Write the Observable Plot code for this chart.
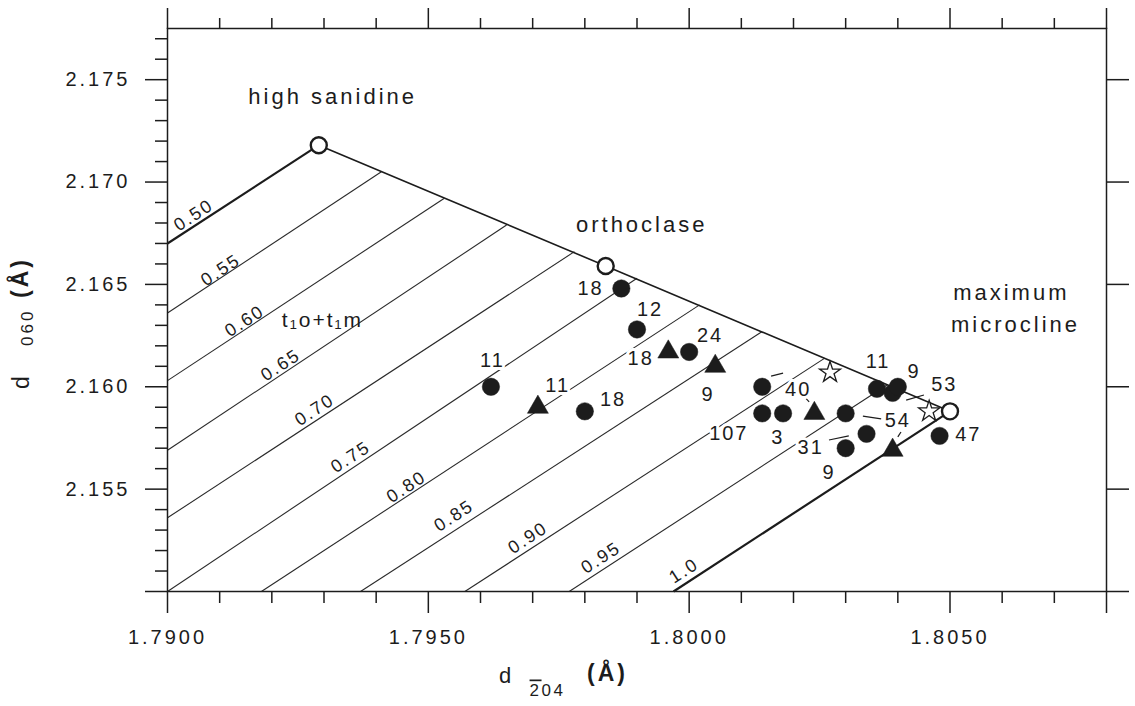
<!DOCTYPE html>
<html>
<head>
<meta charset="utf-8">
<script src="https://cdn.jsdelivr.net/npm/d3@7"></script>
<script src="https://cdn.jsdelivr.net/npm/@observablehq/plot@0.6"></script>
<style>
  html, body { margin: 0; padding: 0; background: #ffffff; }
  #chart svg { display: block; }
  .numlab text { letter-spacing: 2px; }
  .isolab text { letter-spacing: 2px; }
  .names text { letter-spacing: 3px; }
  .sub text { letter-spacing: 2.5px; }
  .barred { text-decoration: overline; }
</style>
</head>
<body>
<div id="chart"></div>
<script>
// ---------- axis ticks ----------
const xMajorTicks = [1.790, 1.795, 1.800, 1.805];
const xMinorTicks = [1.791, 1.792, 1.793, 1.794, 1.796, 1.797, 1.798, 1.799, 1.801, 1.802, 1.803, 1.804, 1.806, 1.807];
const xEndTicks = [1.808];
const yMajorTicks = [2.155, 2.160, 2.165, 2.170, 2.175];
const yMinorTicks = [2.151, 2.152, 2.153, 2.154, 2.156, 2.157, 2.158, 2.159, 2.161, 2.162, 2.163, 2.164,
                     2.166, 2.167, 2.168, 2.169, 2.171, 2.172, 2.173, 2.174, 2.176, 2.177];
const yEndTicks = [2.150];

// ---------- end members ----------
const endNames = ["high sanidine", "orthoclase", "maximum microcline"];
const endX = [1.7929, 1.7984, 1.8050];
const endY = [2.1718, 2.1659, 2.1588];

// name labels
const nameText = ["high sanidine", "orthoclase", "maximum", "microcline"];
const nameX = [1.79155, 1.79783, 1.80506, 1.80502];
const nameY = [2.17418, 2.16789, 2.16457, 2.16301];

// ---------- t1o + t1m isopleths ----------
const isoLevels = ["0.50", "0.55", "0.60", "0.65", "0.70", "0.75", "0.80", "0.85", "0.90", "0.95", "1.0"];
const isoTopX = [1.7929, 1.7941, 1.7953, 1.7965, 1.7978, 1.7990, 1.8002, 1.8014, 1.8026, 1.8038, 1.8050];
const isoTopY = [2.1718, 2.1705, 2.1692, 2.1679, 2.1666, 2.1653, 2.1640, 2.1627, 2.1614, 2.1601, 2.1588];
const isoBotX = [1.7900, 1.7900, 1.7900, 1.7900, 1.7900, 1.7900, 1.7918, 1.7937, 1.7957, 1.7977, 1.7997];
const isoBotY = [2.1670, 2.1636, 2.1603, 2.1569, 2.1536, 2.1500, 2.1500, 2.1500, 2.1500, 2.1500, 2.1500];
const isoLabX = [1.79050, 1.79102, 1.79148, 1.79217, 1.79282, 1.79351, 1.79458, 1.79549, 1.79691, 1.79831, 1.79990];
const isoLabY = [2.16838, 2.16570, 2.16321, 2.16106, 2.15887, 2.15657, 2.15511, 2.15370, 2.15262, 2.15165, 2.15101];
const isoTitle = ["t₁o+t₁m"];
const isoTitleX = [1.79297];
const isoTitleY = [2.16326];

// ---------- samples ----------
const circleX = [1.7987, 1.7990, 1.8000, 1.7962, 1.7980, 1.8014, 1.8014, 1.8018, 1.8030, 1.8036, 1.8039, 1.8040, 1.8034, 1.8030, 1.8048];
const circleY = [2.1648, 2.1628, 2.1617, 2.1600, 2.1588, 2.1600, 2.1587, 2.1587, 2.1587, 2.1599, 2.1597, 2.1600, 2.1577, 2.1570, 2.1576];
const triangleX = [1.7996, 1.8005, 1.7971, 1.8024, 1.8039];
const triangleY = [2.1617, 2.1610, 2.1590, 2.1587, 2.1569];
const starX = [1.8027, 1.8046];
const starY = [2.1607, 2.1588];

// sample number labels
const sampleLabel = ["18", "12", "24", "18", "9", "11", "11", "18", "40", "107", "3", "11", "9", "53", "54", "31", "9", "47"];
const sampleLabelX = [1.79811, 1.79925, 1.80040, 1.79907, 1.80036, 1.79623, 1.79748, 1.79854, 1.80209, 1.80076, 1.80170,
                      1.80362, 1.80431, 1.80489, 1.80400, 1.80233, 1.80268, 1.80535];
const sampleLabelY = [2.16482, 2.16379, 2.16252, 2.16140, 2.15960, 2.16130, 2.16008, 2.15935, 2.15988, 2.15770, 2.15750,
                      2.16121, 2.16072, 2.16009, 2.15833, 2.15701, 2.15579, 2.15765];

// leader lines (label -> symbol)
const leaderX1 = [1.80180, 1.80209, 1.80368, 1.80400, 1.80450, 1.80306];
const leaderY1 = [2.16067, 2.15984, 2.15843, 2.15755, 2.15960, 2.15760];
const leaderX2 = [1.80157, 1.80230, 1.80333, 1.80406, 1.80416, 1.80268];
const leaderY2 = [2.16052, 2.15926, 2.15857, 2.15779, 2.15935, 2.15740];

// ---------- tables ----------
const ink = "#1c1c1c";
const ends = endNames.map((n, i) => ({n, x: endX[i], y: endY[i]}));
const names = nameText.map((t, i) => ({t, x: nameX[i], y: nameY[i]}));
const iso = isoLevels.map((l, i) => ({l, x1: isoTopX[i], y1: isoTopY[i], x2: isoBotX[i], y2: isoBotY[i], lx: isoLabX[i], ly: isoLabY[i]}));
const isoThick = iso.filter(d => d.l === "0.50" || d.l === "1.0");
const isoThin = iso.filter(d => !(d.l === "0.50" || d.l === "1.0"));
const circles = circleX.map((x, i) => ({x, y: circleY[i]}));
const triangles = triangleX.map((x, i) => ({x, y: triangleY[i]}));
const stars = starX.map((x, i) => ({x, y: starY[i]}));
const labels = sampleLabel.map((t, i) => ({t, x: sampleLabelX[i], y: sampleLabelY[i]}));
const leaders = leaderX1.map((x1, i) => ({x1, y1: leaderY1[i], x2: leaderX2[i], y2: leaderY2[i]}));
const isoT = isoTitle.map((t, i) => ({t, x: isoTitleX[i], y: isoTitleY[i]}));

const blank = () => "";

const chart = Plot.plot({
  width: 1135,
  height: 706,
  marginLeft: 167,
  marginRight: 29,
  marginTop: 28,
  marginBottom: 115,
  x: {domain: [1.790, 1.808]},
  y: {domain: [2.150, 2.1775]},
  style: {fontFamily: "'Liberation Sans', Arial, Helvetica, sans-serif", fontSize: "20px", color: ink, background: "#ffffff", letterSpacing: "3px"},
  marks: [
    // isopleths
    Plot.link(isoThin, {x1: "x1", y1: "y1", x2: "x2", y2: "y2", stroke: "#2a2a2a", strokeWidth: 1.1}),
    Plot.link(isoThick, {x1: "x1", y1: "y1", x2: "x2", y2: "y2", stroke: ink, strokeWidth: 2.2}),
    // sanidine - orthoclase - microcline join
    Plot.line(ends, {x: "x", y: "y", stroke: ink, strokeWidth: 1.6}),
    // isopleth labels
    Plot.text(iso, {x: "lx", y: "ly", text: "l", rotate: -33, fontSize: 18, fill: ink, className: "isolab"}),
    Plot.text(isoT, {x: "x", y: "y", text: "t", fontSize: 21, fill: ink, className: "isolab"}),
    // leaders
    Plot.link(leaders, {x1: "x1", y1: "y1", x2: "x2", y2: "y2", stroke: ink, strokeWidth: 1.2}),
    // sample labels with halo
    Plot.text(labels, {x: "x", y: "y", text: "t", fontSize: 20, fill: ink, stroke: "white", strokeWidth: 6, paintOrder: "stroke", className: "numlab"}),
    // symbols
    Plot.dot(circles, {x: "x", y: "y", r: 8.7, fill: ink, stroke: ink, strokeWidth: 0.5}),
    Plot.dot(triangles, {x: "x", y: "y", symbol: "triangle", r: 7.8, fill: ink, stroke: ink, strokeWidth: 0.5}),
    Plot.dot(stars, {x: "x", y: "y", symbol: "star", r: 6.6, fill: "white", stroke: ink, strokeWidth: 1.3}),
    Plot.dot(ends, {x: "x", y: "y", r: 8, fill: "white", stroke: ink, strokeWidth: 2.4}),
    // end-member names
    Plot.text(names, {x: "x", y: "y", text: "t", textAnchor: "start", fontSize: 22, fill: ink, className: "names"}),
    // frame
    Plot.frame({stroke: ink, strokeWidth: 1.5}),
    // bottom axis
    Plot.axisX({anchor: "bottom", ticks: xMinorTicks, tickSize: 12, tickFormat: blank, label: null, stroke: ink, strokeWidth: 1.5}),
    Plot.axisX({anchor: "bottom", ticks: xEndTicks, tickSize: 22, tickFormat: blank, label: null, stroke: ink, strokeWidth: 1.5}),
    Plot.axisX({anchor: "bottom", ticks: xMajorTicks, tickSize: 22, tickPadding: 16, tickFormat: d => d.toFixed(4), label: null, stroke: ink, strokeWidth: 1.5, fontSize: 20, fill: ink}),
    // top axis
    Plot.axisX({anchor: "top", ticks: xMinorTicks, tickSize: 11, tickFormat: blank, label: null, stroke: ink, strokeWidth: 1.5}),
    Plot.axisX({anchor: "top", ticks: xMajorTicks.concat(xEndTicks), tickSize: 21, tickFormat: blank, label: null, stroke: ink, strokeWidth: 1.5}),
    // left axis
    Plot.axisY({anchor: "left", ticks: yMinorTicks, tickSize: 12, tickFormat: blank, label: null, stroke: ink, strokeWidth: 1.5}),
    Plot.axisY({anchor: "left", ticks: yEndTicks, tickSize: 22, tickFormat: blank, label: null, stroke: ink, strokeWidth: 1.5}),
    Plot.axisY({anchor: "left", ticks: yMajorTicks, tickSize: 22, tickPadding: 15, tickFormat: d => d.toFixed(3), label: null, stroke: ink, strokeWidth: 1.5, fontSize: 20, fill: ink}),
    // right axis
    Plot.axisY({anchor: "right", ticks: yEndTicks.concat(yMajorTicks), tickSize: 22, tickFormat: blank, label: null, stroke: ink, strokeWidth: 1.5}),
    // x title: d -204 (Å)
    Plot.text(["d"], {frameAnchor: "bottom", text: d => d, dx: -130.5, dy: 91.5, fontSize: 22, fill: ink}),
    Plot.text(["204"], {frameAnchor: "bottom", text: d => d, dx: -89.5, dy: 104, fontSize: 17, fill: ink, className: "sub"}),
    Plot.text(["(Å)"], {frameAnchor: "bottom", text: d => d, dx: -29.5, dy: 89, fontSize: 23, fontWeight: "bold", fill: ink}),
    // y title: d 060 (Å)
    Plot.text(["d"], {frameAnchor: "left", text: d => d, rotate: -90, dx: -146, dy: 79, fontSize: 23, fill: ink}),
    Plot.text(["060"], {frameAnchor: "left", text: d => d, rotate: -90, dx: -140, dy: 36, fontSize: 17, fill: ink}),
    Plot.text(["(Å)"], {frameAnchor: "left", text: d => d, rotate: -90, dx: -147, dy: -12, fontSize: 23, fontWeight: "bold", fill: ink})
  ]
});

// put the bar over the "2" of the x subscript (crystallographic minus sign)
const sub = chart.querySelector(".sub text");
if (sub && sub.textContent === "204") {
  sub.textContent = "";
  const ns = "http://www.w3.org/2000/svg";
  const t2 = document.createElementNS(ns, "tspan");
  t2.setAttribute("class", "barred");
  t2.textContent = "2";
  const t04 = document.createElementNS(ns, "tspan");
  t04.textContent = "04";
  sub.appendChild(t2);
  sub.appendChild(t04);
}

document.getElementById("chart").appendChild(chart);
</script>
</body>
</html>
